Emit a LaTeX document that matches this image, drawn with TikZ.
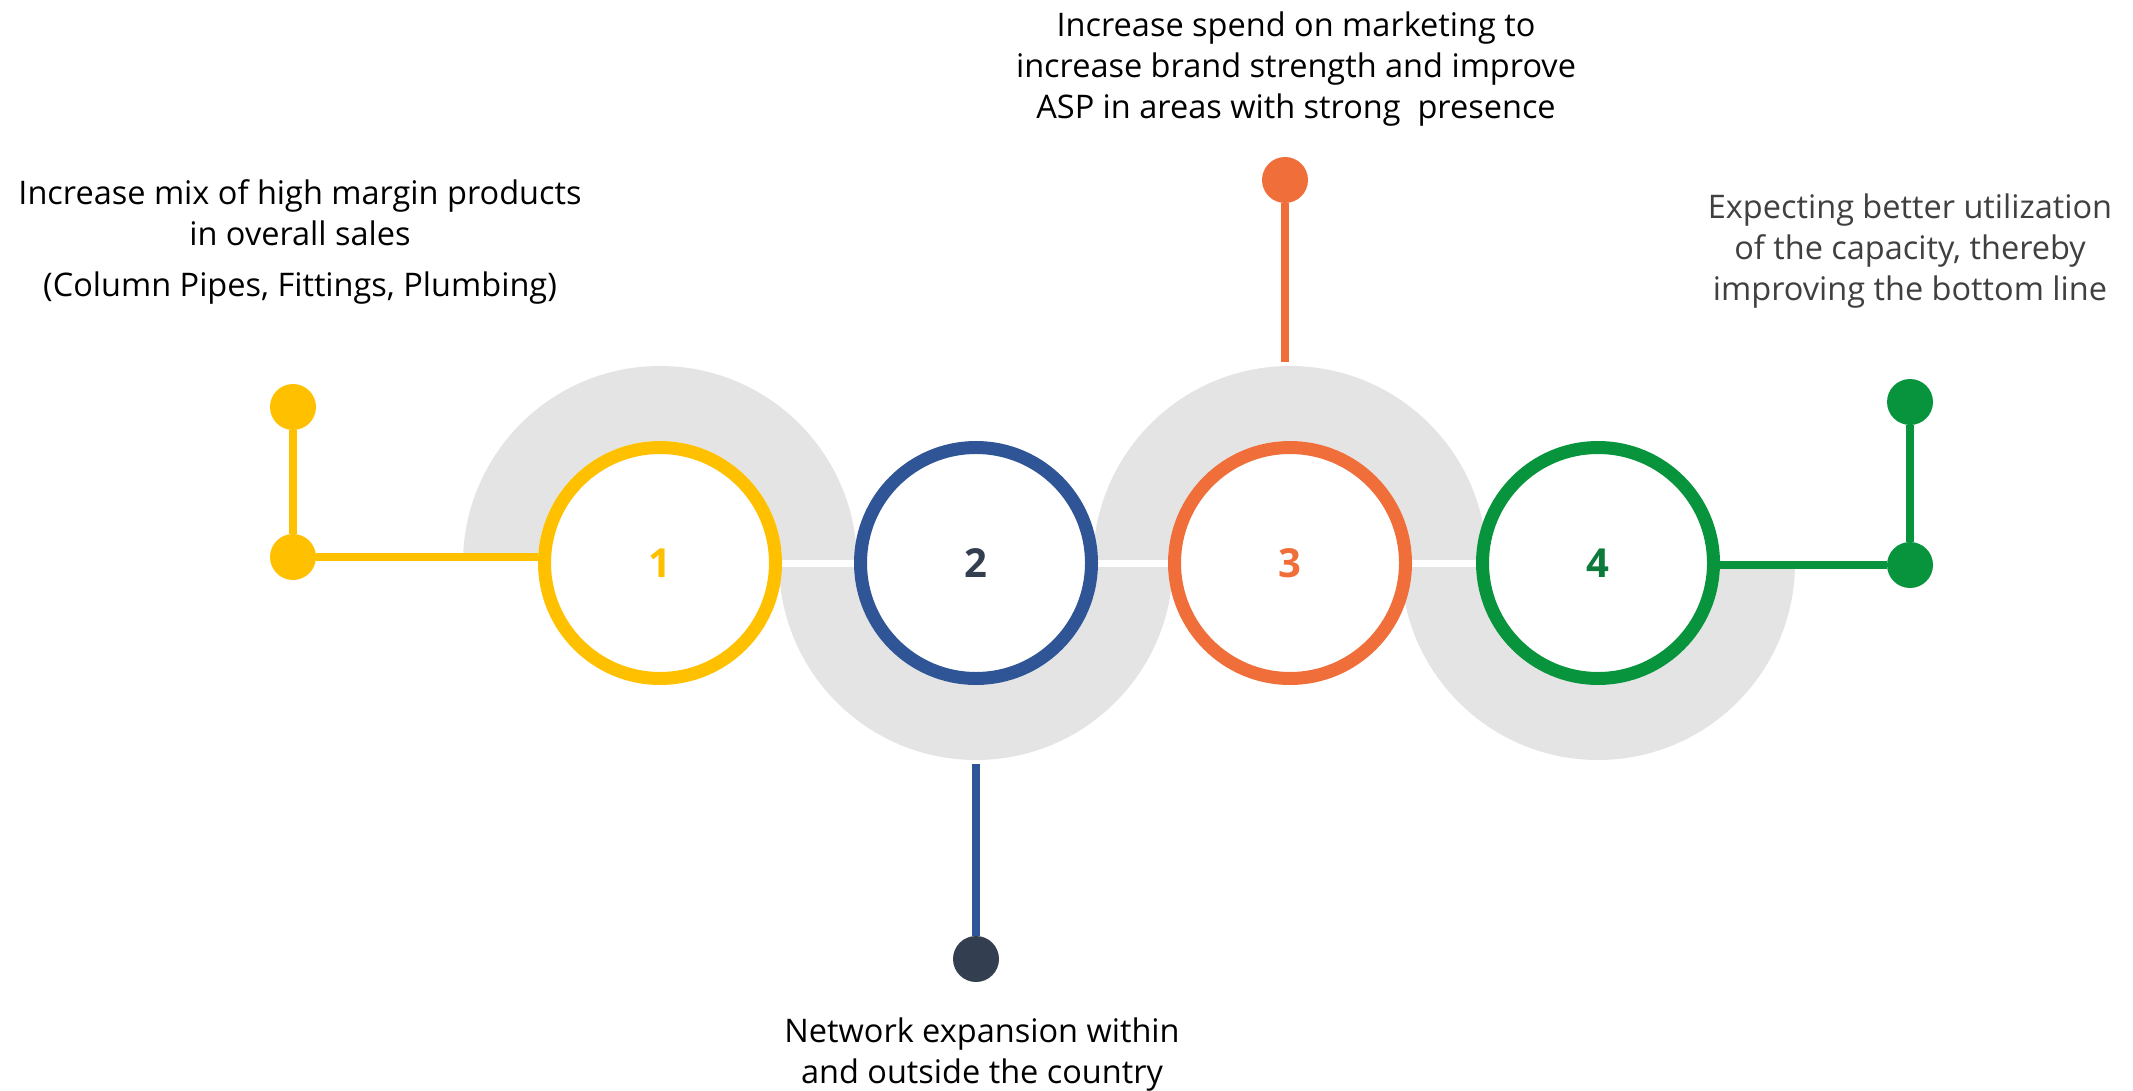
\documentclass[tikz,border=0pt]{standalone}
\usepackage{fontspec}
\setmainfont{Open Sans}
\definecolor{yel}{HTML}{FFC000}
\definecolor{blu}{HTML}{2F5597}
\definecolor{ora}{HTML}{F06E3A}
\definecolor{grn}{HTML}{07943D}
\definecolor{dgrn}{HTML}{0B7A3A}
\definecolor{slate}{HTML}{333F50}
\definecolor{snakegray}{HTML}{E4E4E4}
\definecolor{txtgray}{HTML}{404040}
\tikzset{
  ring/.style={circle, minimum size=231pt, inner sep=0pt, line width=13pt, fill=white, font=\fontsize{40}{40}\selectfont\bfseries},
  dot/.style={circle, minimum size=46pt, inner sep=0pt, outer sep=0pt},
  conn/.style={line width=7.5pt},
  txt/.style={anchor=north, inner sep=0pt, align=center, font=\fontsize{32.5}{41}\selectfont}
}
\begin{document}
\begin{tikzpicture}[x=1pt,y=-1pt]
\useasboundingbox (0,0) rectangle (2133,1091);
% grey snake
\foreach \cx/\ya/\yb in {660/559/340, 976/567/790, 1290/559/340, 1598/567/790}{
  \begin{scope}
    \clip (\cx-210,\ya) rectangle (\cx+210,\yb);
    \fill[snakegray, even odd rule] (\cx,563) circle[radius=197pt] (\cx,563) circle[radius=122pt];
  \end{scope}
}
% rings
\node[ring, draw=yel, text=yel] (c1) at (660,563) {1};
\node[ring, draw=blu, text=slate] (c2) at (976,563) {2};
\node[ring, draw=ora, text=ora] (c3) at (1290,563) {3};
\node[ring, draw=grn, text=dgrn] (c4) at (1598,563) {4};
% dots
\node[dot, fill=yel] (y1) at (293,407) {};
\node[dot, fill=yel] (y2) at (293,557) {};
\node[dot, fill=slate] (b1) at (976,959) {};
\node[dot, fill=ora] (o1) at (1285,180) {};
\node[dot, fill=grn] (g1) at (1910,402) {};
\node[dot, fill=grn] (g2) at (1910,565) {};
\coordinate (b0) at (976,764);
\coordinate (o0) at (1285,362);
% connectors
\draw[conn, yel] (y1) -- (y2);
\draw[conn, yel] (y2) -- (y2 -| c1.west);
\draw[conn, blu] (b0) -- (b1);
\draw[conn, ora] (o1) -- (o0);
\draw[conn, grn] (g1) -- (g2);
\draw[conn, grn] (g2 -| c4.east) -- (g2);
% texts
\node[txt] (t1) at (300,179) {Increase mix of high margin products\\in overall sales\\[10pt](Column Pipes, Fittings, Plumbing)};
\node[txt] (t3) at (1296,12) {Increase spend on marketing to\\increase brand strength and improve\\ASP in areas with strong\ \ presence};
\node[txt, text=txtgray] (t4) at (1910,194) {Expecting better utilization\\of the capacity, thereby\\improving the bottom line};
\node[txt] (t2) at (982,1018) {Network expansion within\\and outside the country};
\end{tikzpicture}
\end{document}
